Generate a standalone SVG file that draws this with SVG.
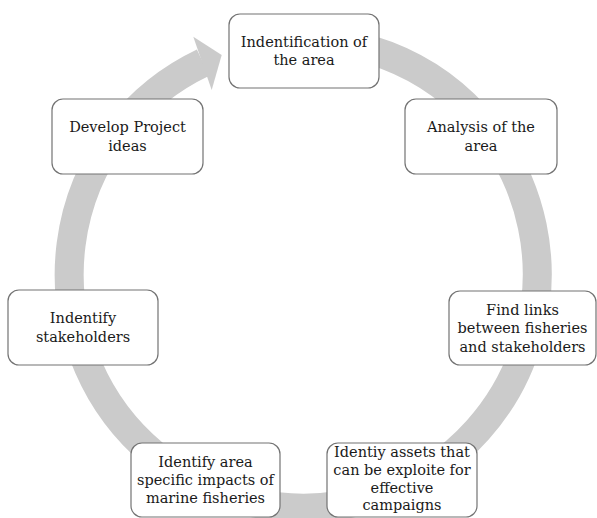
<svg xmlns="http://www.w3.org/2000/svg" width="597" height="518" viewBox="0 0 597 518">
<style>
.box{fill:#ffffff;stroke:#737373;stroke-width:1.2}
.t{font-family:"DejaVu Serif","Liberation Serif",serif;font-size:14.5px;fill:#1a1a1a;text-anchor:middle}
.ring{fill:none;stroke:#cbcbcb;stroke-width:29}
</style>
<rect width="597" height="518" fill="#ffffff"/>
<g id="connectors">
<path class="ring" d="M262.9,43.6 A234,234 0 1 1 203.1,62.6"/>
<polygon points="193.3,36.7 221.7,55 211.7,90" fill="#cbcbcb"/>
</g>
<g id="n1">
<rect class="box" x="229" y="14" width="150" height="74" rx="11"/>
<text class="t" x="304" y="46.5">Indentification of</text>
<text class="t" x="304" y="65">the area</text>
</g>
<g id="n2">
<rect class="box" x="405" y="99" width="152" height="75" rx="11"/>
<text class="t" x="481" y="132">Analysis of the</text>
<text class="t" x="481" y="150.5">area</text>
</g>
<g id="n3">
<rect class="box" x="449" y="291" width="147" height="74" rx="11"/>
<text class="t" x="522.5" y="314.5">Find links</text>
<text class="t" x="522.5" y="333">between fisheries</text>
<text class="t" x="522.5" y="351.5">and stakeholders</text>
</g>
<g id="n4">
<rect class="box" x="327" y="443" width="150" height="74" rx="11"/>
<text class="t" x="402" y="457">Identiy assets that</text>
<text class="t" x="402" y="475">can be exploite for</text>
<text class="t" x="402" y="492.5">effective</text>
<text class="t" x="402" y="510">campaigns</text>
</g>
<g id="n5">
<rect class="box" x="131" y="443" width="149" height="74" rx="11"/>
<text class="t" x="205.5" y="466.5">Identify area</text>
<text class="t" x="205.5" y="485">specific impacts of</text>
<text class="t" x="205.5" y="503">marine fisheries</text>
</g>
<g id="n6">
<rect class="box" x="8" y="290" width="150" height="75" rx="11"/>
<text class="t" x="83" y="323">Indentify</text>
<text class="t" x="83" y="341.5">stakeholders</text>
</g>
<g id="n7">
<rect class="box" x="52" y="99" width="151" height="75" rx="11"/>
<text class="t" x="127.5" y="132">Develop Project</text>
<text class="t" x="127.5" y="150.5">ideas</text>
</g>
</svg>
